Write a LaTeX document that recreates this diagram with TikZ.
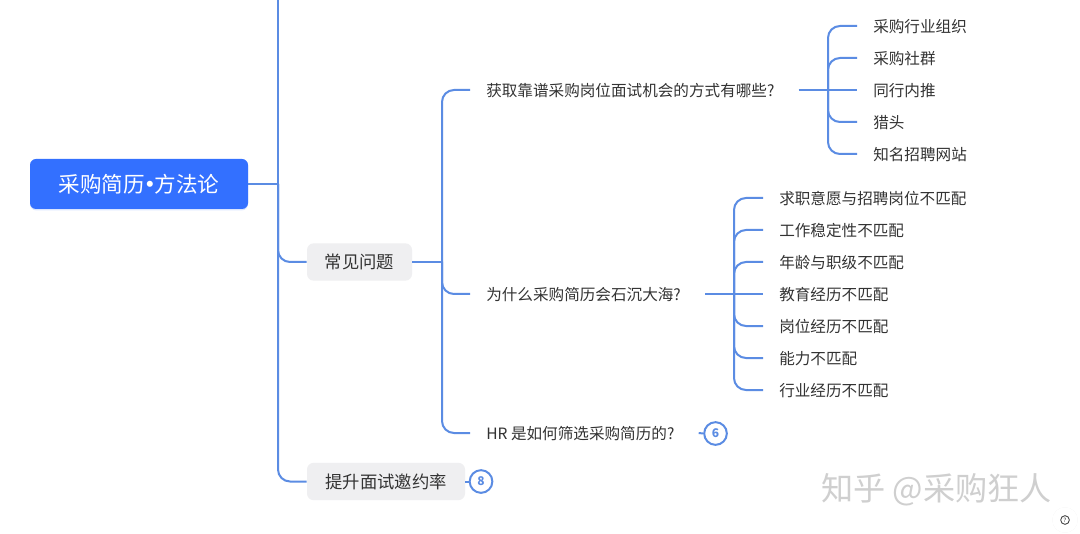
\documentclass[tikz,border=0pt]{standalone}
\usepackage{fontspec}
\setmainfont{Noto Sans CJK SC}
\newfontfamily\latinfont{Noto Sans}
\usetikzlibrary{shadows}
\definecolor{linkblue}{HTML}{5B8CE3}
\definecolor{rootblue}{HTML}{3370FF}
\definecolor{inkgray}{HTML}{333333}
\definecolor{boxgray}{HTML}{EFEFF1}
\definecolor{markgray}{HTML}{CFCFCF}
\tikzset{
  x=0.75pt,y=-0.75pt,
  link/.style={draw=linkblue,line width=1.5pt,rounded corners=9pt},
  rootbox/.style={fill=rootblue,text=white,rounded corners=4.5pt,minimum width=163.5pt,minimum height=37.5pt,inner sep=0pt,font=\fontsize{16.2}{18}\selectfont,drop shadow={shadow xshift=0pt,shadow yshift=-1pt,fill=rootblue,opacity=.18}},
  topicbox/.style={fill=boxgray,text=inkgray,rounded corners=5pt,minimum height=28pt,inner sep=0pt,font=\fontsize{13}{15}\selectfont},
  question/.style={anchor=west,text=inkgray,inner xsep=12pt,inner ysep=2pt,text height=11pt,text depth=0.6pt,font=\fontsize{11.7}{14}\selectfont,execute at end node={\hspace*{6pt}}},
  leaf/.style={anchor=west,text=inkgray,inner xsep=12pt,inner ysep=2pt,text height=11pt,text depth=0.6pt,font=\fontsize{11.7}{14}\selectfont},
  badge/.style={circle,draw=linkblue,line width=1.5pt,fill=white,text=linkblue,minimum size=17pt,inner sep=0pt,font=\bfseries\fontsize{9}{10}\selectfont},
}
\begin{document}
\begin{tikzpicture}
\useasboundingbox (0,0) rectangle (1080,534);
\fill[white] (0,0) rectangle (1080,534);
% nodes
\node[rootbox] (root) at (139,184) {采购简历\makebox[7pt]{\bfseries ·}方法论};
\node[topicbox,minimum width=78.75pt] (common) at (359.5,262) {常见问题};
\node[topicbox,minimum width=118.5pt] (raise) at (386,481.5) {提升面试邀约率};
\node[question] (q1) at (470,90) {获取靠谱采购岗位面试机会的方式有哪些?};
\node[question] (q2) at (470,294) {为什么采购简历会石沉大海?};
\node[question] (q3) at (470,433) {HR 是如何筛选采购简历的?};
\node[badge] (b6) at (715.5,433.5) {6};
\node[badge] (b8) at (481,481.5) {8};
\node[leaf] (a1) at (857,26) {采购行业组织};
\node[leaf] (a2) at (857,58) {采购社群};
\node[leaf] (a3) at (857,90) {同行内推};
\node[leaf] (a4) at (857,122) {猎头};
\node[leaf] (a5) at (857,154) {知名招聘网站};
\node[leaf] (c1) at (763,198) {求职意愿与招聘岗位不匹配};
\node[leaf] (c2) at (763,230) {工作稳定性不匹配};
\node[leaf] (c3) at (763,262) {年龄与职级不匹配};
\node[leaf] (c4) at (763,294) {教育经历不匹配};
\node[leaf] (c5) at (763,326) {岗位经历不匹配};
\node[leaf] (c6) at (763,358) {能力不匹配};
\node[leaf] (c7) at (763,390) {行业经历不匹配};
\node[text=markgray,font=\fontsize{24.1}{28}\selectfont,anchor=east,inner sep=0pt] (mark) at (1052,490) {知乎 @采购狂人};
\node[circle,fill=white,minimum size=19pt,inner sep=0pt,drop shadow={shadow xshift=0pt,shadow yshift=0pt,fill=black,opacity=.08}] (helpbg) at (1065,520) {};
\node[circle,draw=inkgray,line width=.6pt,minimum size=6.5pt,inner sep=0pt,text=inkgray,font=\latinfont\fontsize{4.5}{5}\selectfont] (help) at (helpbg.center) {?};
% junctions
\coordinate (top) at (278,0);
\coordinate (j0) at (278,184);
\coordinate (j1) at (442,262);
\coordinate (ja) at (828,90);
\coordinate (jc) at (734,294);
% connectors
\draw[link] (root.east) -- (j0);
\draw[link] (top) -- (j0);
\draw[link] (j0) |- (common.west);
\draw[link] (j0) |- (raise.west);
\draw[link] (common.east) -- (j1);
\draw[link] (j1) |- (q1.west);
\draw[link] (j1) |- (q2.west);
\draw[link] (j1) |- (q3.west);
\draw[link] (q1.east) -- (a3.west);
\foreach \n in {a1,a2,a4,a5}{\draw[link] (ja) |- (\n.west);}
\draw[link] (q2.east) -- (c4.west);
\foreach \n in {c1,c2,c3,c5,c6,c7}{\draw[link] (jc) |- (\n.west);}
\draw[link] (q3.east) -- (b6.west);
\draw[link] (raise.east) -- (b8.west);
\end{tikzpicture}
\end{document}
